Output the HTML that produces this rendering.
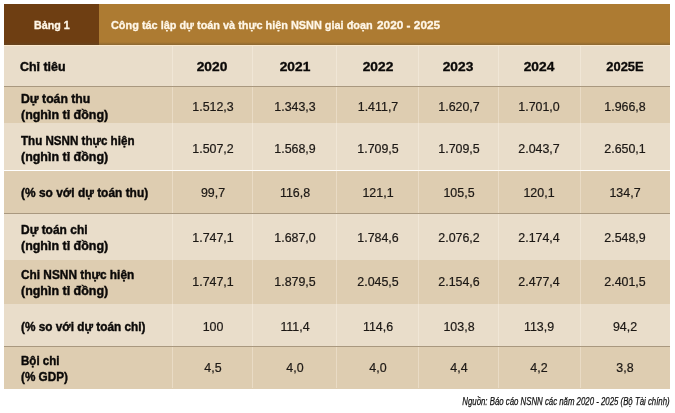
<!DOCTYPE html>
<html><head><meta charset="utf-8"><title>Bảng 1</title>
<style>
html,body{margin:0;padding:0;background:#fff;}
body{width:675px;height:413px;position:relative;overflow:hidden;font-family:"Liberation Sans",sans-serif;color:#1a1714;}
.r{position:absolute;left:4.3px;width:665.4000000000001px;}
.t{position:absolute;white-space:nowrap;line-height:16px;will-change:opacity;opacity:.999;}
.b{font-weight:bold;font-size:12.2px;left:20.7px;transform-origin:0 50%;color:#0b0908;-webkit-text-stroke:.4px #0b0908;}
.d{font-size:12px;text-align:center;transform:translateX(-50%) scaleX(1.035);color:#1c1815;-webkit-text-stroke:.2px #1c1815;}
.h{font-weight:bold;font-size:12.3px;text-align:center;transform:translateX(-50%) scaleX(1.12);color:#0b0908;-webkit-text-stroke:.3px #0b0908;}
.v{position:absolute;top:45.6px;width:1px;height:342.9px;background:rgba(255,250,240,.33);}
.hl{position:absolute;left:4.3px;width:665.4000000000001px;height:1px;background:#A9987F;}
</style></head><body>

<div style="position:absolute;left:4.3px;top:4.2px;width:94.7px;height:40.4px;background:#6E3E12"></div>
<div style="position:absolute;left:99px;top:4.2px;width:570.7px;height:40.4px;background:#AD7B32"></div>
<div class="r" style="top:44.6px;height:41.699999999999996px;background:#E9DDCA"></div>
<div class="r" style="top:86.3px;height:36.900000000000006px;background:#DECDB1"></div>
<div class="r" style="top:123.2px;height:47.3px;background:#E9DDCA"></div>
<div class="r" style="top:170.5px;height:42.5px;background:#DECDB1"></div>
<div class="r" style="top:213px;height:47.30000000000001px;background:#E9DDCA"></div>
<div class="r" style="top:260.3px;height:43.69999999999999px;background:#DECDB1"></div>
<div class="r" style="top:304px;height:42px;background:#E9DDCA"></div>
<div class="r" style="top:346px;height:42.5px;background:#DECDB1"></div>
<div style="position:absolute;left:4.3px;width:665.4000000000001px;top:41.6px;height:3px;background:linear-gradient(rgba(90,75,50,0),rgba(90,75,50,.42))"></div>
<div style="position:absolute;left:4.3px;width:665.4000000000001px;top:44.6px;height:1.4px;background:#FCE9CD"></div>
<div class="v" style="left:172px"></div>
<div class="v" style="left:252px"></div>
<div class="v" style="left:336px"></div>
<div class="v" style="left:418px"></div>
<div class="v" style="left:498px"></div>
<div class="v" style="left:580px"></div>
<div class="hl" style="top:86px"></div>
<div class="hl" style="top:213px"></div>
<div class="hl" style="top:346px"></div>
<div class="t " style="left:33.6px;top:16.52px;font-weight:bold;font-size:11.5px;color:#FFF7E8;-webkit-text-stroke:.35px #FFF7E8;transform:scaleX(.93);transform-origin:0 50%">Bảng 1</div>
<div class="t " style="left:110.6px;top:17.09px;font-weight:bold;font-size:11px;color:#FFF7E8;-webkit-text-stroke:.3px #FFF7E8;transform-origin:0 50%;transform:scaleX(.991)">Công tác lập dự toán và thực hiện NSNN giai đoạn</div>
<div class="t " style="left:377.4px;top:17.09px;font-weight:bold;font-size:11px;color:#FFF7E8;-webkit-text-stroke:.3px #FFF7E8;transform-origin:0 50%;transform:scaleX(1.075)">2020 - 2025</div>
<div class="t b" style="left:20.4px;top:58.97px;left:20.4px;transform:scaleX(1.02)">Chỉ tiêu</div>
<div class="t h" style="left:212.35px;top:58.94px;">2020</div>
<div class="t h" style="left:294.6px;top:58.94px;">2021</div>
<div class="t h" style="left:377.6px;top:58.94px;">2022</div>
<div class="t h" style="left:458.1px;top:58.94px;">2023</div>
<div class="t h" style="left:538.75px;top:58.94px;">2024</div>
<div class="t h" style="left:624.6px;top:58.94px;transform:translateX(-50%) scaleX(1.05)">2025E</div>
<div class="t b" style="left:20.7px;top:90.97px;transform:scaleX(1.003)">Dự toán thu</div>
<div class="t b" style="left:20.7px;top:106.77px;transform:scaleX(1.022)">(nghìn tỉ đồng)</div>
<div class="t b" style="left:20.7px;top:133.17px;transform:scaleX(0.952)">Thu NSNN thực hiện</div>
<div class="t b" style="left:20.7px;top:149.17px;transform:scaleX(1.022)">(nghìn tỉ đồng)</div>
<div class="t b" style="left:20.7px;top:184.97px;transform:scaleX(0.979)">(% so với dự toán thu)</div>
<div class="t b" style="left:20.7px;top:222.37px;transform:scaleX(0.982)">Dự toán chi</div>
<div class="t b" style="left:20.7px;top:238.37px;transform:scaleX(1.022)">(nghìn tỉ đồng)</div>
<div class="t b" style="left:20.7px;top:266.77px;transform:scaleX(0.972)">Chi NSNN thực hiện</div>
<div class="t b" style="left:20.7px;top:282.77px;transform:scaleX(1.022)">(nghìn tỉ đồng)</div>
<div class="t b" style="left:20.7px;top:318.67px;transform:scaleX(0.968)">(% so với dự toán chi)</div>
<div class="t b" style="left:20.7px;top:353.07px;transform:scaleX(0.947)">Bội chi</div>
<div class="t b" style="left:20.7px;top:368.67px;transform:scaleX(0.964)">(% GDP)</div>
<div class="t d" style="left:212.75px;top:99.14px;">1.512,3</div>
<div class="t d" style="left:295.0px;top:99.14px;">1.343,3</div>
<div class="t d" style="left:378.0px;top:99.14px;">1.411,7</div>
<div class="t d" style="left:458.5px;top:99.14px;">1.620,7</div>
<div class="t d" style="left:539.15px;top:99.14px;">1.701,0</div>
<div class="t d" style="left:625.0px;top:99.14px;">1.966,8</div>
<div class="t d" style="left:212.75px;top:141.14px;">1.507,2</div>
<div class="t d" style="left:295.0px;top:141.14px;">1.568,9</div>
<div class="t d" style="left:378.0px;top:141.14px;">1.709,5</div>
<div class="t d" style="left:458.5px;top:141.14px;">1.709,5</div>
<div class="t d" style="left:539.15px;top:141.14px;">2.043,7</div>
<div class="t d" style="left:625.0px;top:141.14px;">2.650,1</div>
<div class="t d" style="left:212.75px;top:185.04px;">99,7</div>
<div class="t d" style="left:295.0px;top:185.04px;">116,8</div>
<div class="t d" style="left:378.0px;top:185.04px;">121,1</div>
<div class="t d" style="left:458.5px;top:185.04px;">105,5</div>
<div class="t d" style="left:539.15px;top:185.04px;">120,1</div>
<div class="t d" style="left:625.0px;top:185.04px;">134,7</div>
<div class="t d" style="left:212.75px;top:229.64px;">1.747,1</div>
<div class="t d" style="left:295.0px;top:229.64px;">1.687,0</div>
<div class="t d" style="left:378.0px;top:229.64px;">1.784,6</div>
<div class="t d" style="left:458.5px;top:229.64px;">2.076,2</div>
<div class="t d" style="left:539.15px;top:229.64px;">2.174,4</div>
<div class="t d" style="left:625.0px;top:229.64px;">2.548,9</div>
<div class="t d" style="left:212.75px;top:274.44px;">1.747,1</div>
<div class="t d" style="left:295.0px;top:274.44px;">1.879,5</div>
<div class="t d" style="left:378.0px;top:274.44px;">2.045,5</div>
<div class="t d" style="left:458.5px;top:274.44px;">2.154,6</div>
<div class="t d" style="left:539.15px;top:274.44px;">2.477,4</div>
<div class="t d" style="left:625.0px;top:274.44px;">2.401,5</div>
<div class="t d" style="left:212.75px;top:318.74px;">100</div>
<div class="t d" style="left:295.0px;top:318.74px;">111,4</div>
<div class="t d" style="left:378.0px;top:318.74px;">114,6</div>
<div class="t d" style="left:458.5px;top:318.74px;">103,8</div>
<div class="t d" style="left:539.15px;top:318.74px;">113,9</div>
<div class="t d" style="left:625.0px;top:318.74px;">94,2</div>
<div class="t d" style="left:212.75px;top:360.14px;">4,5</div>
<div class="t d" style="left:295.0px;top:360.14px;">4,0</div>
<div class="t d" style="left:378.0px;top:360.14px;">4,0</div>
<div class="t d" style="left:458.5px;top:360.14px;">4,4</div>
<div class="t d" style="left:539.15px;top:360.14px;">4,2</div>
<div class="t d" style="left:625.0px;top:360.14px;">3,8</div>
<div class="t" style="right:5.2000000000000455px;top:393.49px;font-style:italic;font-size:11px;transform:scaleX(.711);transform-origin:100% 50%;color:#111;-webkit-text-stroke:.25px #111">Nguồn: Báo cáo NSNN các năm 2020 - 2025 (Bộ Tài chính)</div>
</body></html>
